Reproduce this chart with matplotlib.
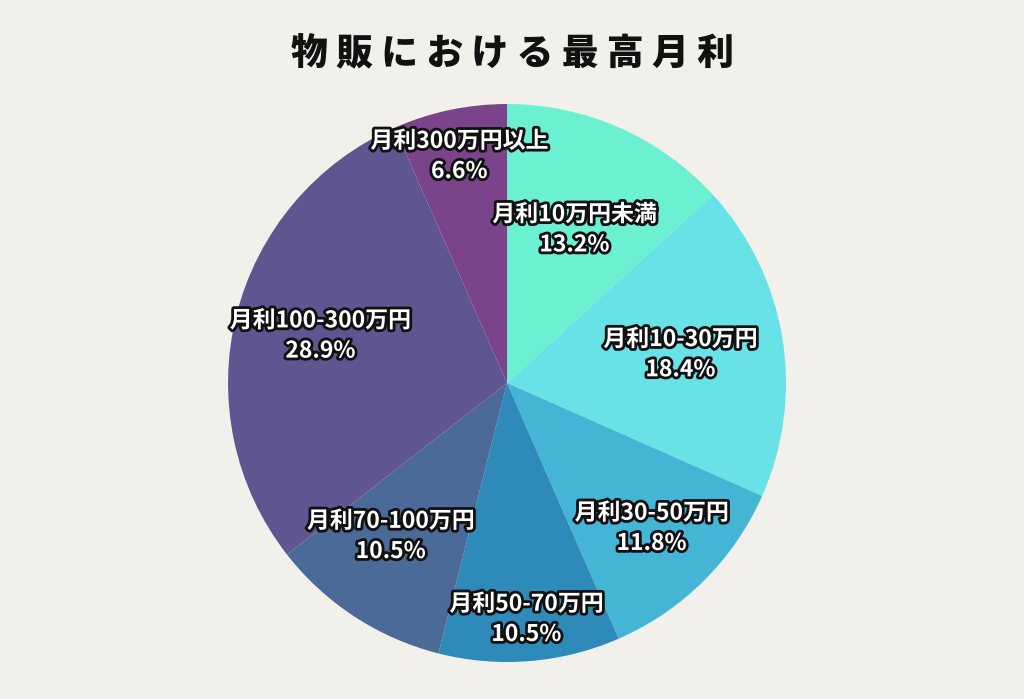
import numpy as np
import matplotlib
matplotlib.use("Agg")
from matplotlib import pyplot as plt
import matplotlib.patheffects as pe

plt.rcParams['font.family'] = ['Noto Sans CJK JP', 'DejaVu Sans']

# data
categories = ["月利10万円未満", "月利10-30万円", "月利30-50万円", "月利50-70万円",
              "月利70-100万円", "月利100-300万円", "月利300万円以上"]
shares = [13.2, 18.4, 11.8, 10.5, 10.5, 28.9, 6.6]
colors = ["#6cf0d2", "#68e2e6", "#45b5d6", "#2e8ab8", "#4b6a98", "#5f5590", "#7a438a"]

# how far from the centre each label sits (fraction of radius), plus a small angle nudge
label_r = [0.60, 0.63, 0.735, 0.85, 0.69, 0.69, 0.83]
label_nudge = [0, 0, 0, 0, -4, 0, 0]

bg = "#f2f0ea"
fig = plt.figure(figsize=(10.24, 6.99), dpi=100, facecolor=bg)

fig.text(0.5, 0.923, " ".join("物販における最高月利"), ha="center", va="center",
         fontsize=26.5, fontweight="black", color="#111111")

ax = fig.add_axes([0.2227, 0.0529, 0.5449, 0.7983])
ax.set_facecolor(bg)
wedges, _ = ax.pie(shares, colors=colors, startangle=90, counterclock=False,
                   radius=1, wedgeprops=dict(linewidth=0))
ax.set_xlim(-1, 1)
ax.set_ylim(-1, 1)
ax.set_aspect("equal")
ax.axis("off")

# labels
total = sum(shares)
start = 90.0
for cat, val, r, nd in zip(categories, shares, label_r, label_nudge):
    mid = np.deg2rad(start - val / total * 360 / 2 + nd)
    start -= val / total * 360
    x, y = r * np.cos(mid), r * np.sin(mid)
    ax.text(x, y, f"{cat}\n{val}%", ha="center", va="center", fontsize=16.5,
            fontweight="bold", color="white", linespacing=1.4,
            path_effects=[pe.withStroke(linewidth=4, foreground="#111111")])

fig.savefig("out.png", dpi=100, facecolor=bg)
